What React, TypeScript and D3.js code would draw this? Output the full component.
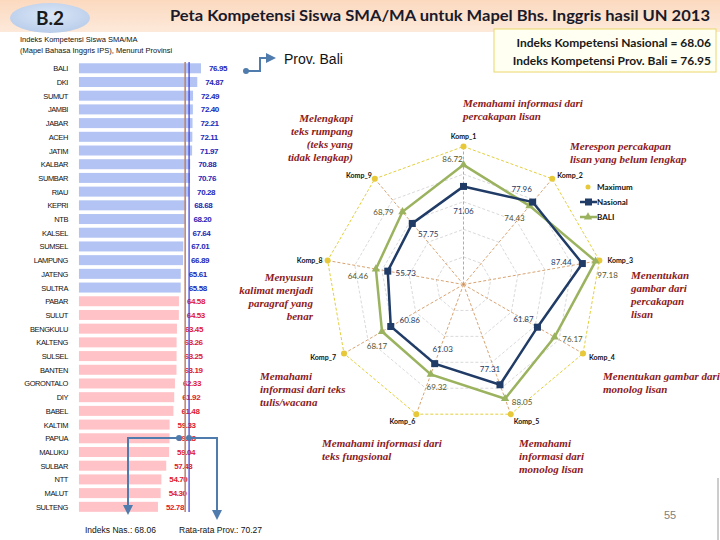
import React from 'react';
import * as d3 from 'd3';

// ---------- DATA ----------
const provinces = [
  'BALI', 'DKI', 'SUMUT', 'JAMBI', 'JABAR', 'ACEH', 'JATIM', 'KALBAR', 'SUMBAR', 'RIAU',
  'KEPRI', 'NTB', 'KALSEL', 'SUMSEL', 'LAMPUNG', 'JATENG', 'SULTRA', 'PABAR', 'SULUT',
  'BENGKULU', 'KALTENG', 'SULSEL', 'BANTEN', 'GORONTALO', 'DIY', 'BABEL', 'KALTIM',
  'PAPUA', 'MALUKU', 'SULBAR', 'NTT', 'MALUT', 'SULTENG',
];
const provValues = [
  76.95, 74.87, 72.49, 72.4, 72.21, 72.11, 71.97, 70.88, 70.76, 70.28,
  68.68, 68.2, 67.64, 67.01, 66.89, 65.61, 65.58, 64.58, 64.53,
  63.45, 63.26, 63.25, 63.19, 62.33, 61.92, 61.48, 59.33,
  59.28, 59.04, 57.43, 54.7, 54.3, 52.78,
];
const nationalIndex = 68.06;
const provAverage = 70.27;
const colorThreshold = 65;
const barBaseValue = 8.4;

const radarAxes = ['Komp_1', 'Komp_2', 'Komp_3', 'Komp_4', 'Komp_5', 'Komp_6', 'Komp_7', 'Komp_8', 'Komp_9'];
const maxValues = [100, 100, 100, 100, 100, 100, 100, 100, 100];
const nasValues = [71.06, 77.96, 87.44, 61.87, 77.31, 61.03, 60.86, 55.73, 57.75];
const baliValues = [86.72, 74.43, 97.18, 76.17, 88.05, 69.32, 68.17, 64.46, 68.79];
const gridLevels = [20, 40, 60, 80];

// ---------- LAYOUT (label offsets) ----------
const nasLabelOffsets = [[0, 25], [-11, -13], [-21, -2], [-14, -8], [-10, -16], [8, -15], [19, -6], [18, 2], [16, 11]];
const baliLabelOffsets = [[-11, -6], [-15, 12], [12, 14], [18, 2], [17, 3], [6, 13], [-5, 14], [-18, 7], [-19, 0]];
const axisLabelPos: [number, number, string][] = [
  [0, -10, 'middle'], [5, -3, 'start'], [8, 0, 'start'], [6, 4, 'start'], [3, 7, 'start'],
  [-1, 7, 'end'], [-8, 4, 'end'], [-5, 0, 'end'], [-3, -3, 'end'],
];

const annotations: { x: number; y: number; anchor: string; lines: string[] }[] = [
  { x: 463, y: 107, anchor: 'start', lines: ['Memahami informasi dari', 'percakapan lisan'] },
  { x: 353, y: 122, anchor: 'end', lines: ['Melengkapi', 'teks rumpang', '(teks yang', 'tidak lengkap)'] },
  { x: 570, y: 150, anchor: 'start', lines: ['Merespon percakapan', 'lisan yang belum lengkap'] },
  { x: 313, y: 281, anchor: 'end', lines: ['Menyusun', 'kalimat menjadi', 'paragraf yang', 'benar'] },
  { x: 631, y: 279, anchor: 'start', lines: ['Menentukan', 'gambar dari', 'percakapan', 'lisan'] },
  { x: 260, y: 380, anchor: 'start', lines: ['Memahami', 'informasi dari teks', 'tulis/wacana'] },
  { x: 603, y: 380, anchor: 'start', lines: ['Menentukan gambar dari', 'monolog lisan'] },
  { x: 322, y: 447, anchor: 'start', lines: ['Memahami informasi dari', 'teks fungsional'] },
  { x: 519, y: 447, anchor: 'start', lines: ['Memahami', 'informasi dari', 'monolog lisan'] },
];

const NAS_COLOR = '#1f3b66';
const BALI_COLOR = '#9bb35e';
const MAX_COLOR = '#e3cf3c';

export default function App() {
  // bar chart scales
  const x = d3.scaleLinear().domain([0, 100]).range([64, 242]);
  const y = d3.scaleBand<string>().domain(provinces).range([61.5, 61.5 + 33 * 13.7]).paddingInner(0.27).paddingOuter(0.13);

  // radar scales
  const cx = 463.5, cy = 284.5;
  const r = d3.scaleLinear().domain([0, 100]).range([0, 138]);
  const angle = d3.scalePoint<string>().domain(radarAxes).range([0, (2 * Math.PI * 8) / 9]);
  const pt = (i: number, v: number): [number, number] => {
    const a = angle(radarAxes[i])!;
    return [cx + r(v) * Math.sin(a), cy - r(v) * Math.cos(a)];
  };
  const lineGen = d3.line<[number, number]>().curve(d3.curveLinearClosed);
  const seriesPath = (vals: number[]) => lineGen(vals.map((v, i) => pt(i, v)))!;

  const ff = 'Liberation Sans, Arial, sans-serif';
  const calibri = 'Lato, Open Sans, sans-serif';

  return (
    <svg width={720} height={540} style={{ position: 'absolute', left: 0, top: 0, background: '#fff' }} fontFamily={ff}>
      <defs>
        <linearGradient id="band" x1="0" x2="0" y1="0" y2="1">
          <stop offset="0" stopColor="#fbd9bf" />
          <stop offset="1" stopColor="#fde9da" />
        </linearGradient>
        <radialGradient id="ell" cx="0.5" cy="0.4" r="0.6">
          <stop offset="0" stopColor="#dbe7f7" />
          <stop offset="1" stopColor="#b9cdea" />
        </radialGradient>
        <marker id="arr" viewBox="0 0 10 10" refX="5" refY="5" markerWidth="5" markerHeight="5" orient="auto">
          <path d="M0,0 L10,5 L0,10 z" fill="#4f7cac" />
        </marker>
      </defs>

      {/* header */}
      <rect x={0} y={0} width={720} height={32} fill="url(#band)" />
      <ellipse cx={50} cy={18} rx={40} ry={15} fill="url(#ell)" />
      <text x={50} y={25} textAnchor="middle" fontFamily={calibri} fontWeight="bold" fontSize={19} fill="#1a1a1a">B.2</text>
      <text x={170} y={21} fontFamily={calibri} fontWeight="bold" fontSize={16} fill="#1a1a2a" textLength={540} lengthAdjust="spacingAndGlyphs">
        Peta Kompetensi Siswa SMA/MA untuk Mapel Bhs. Inggris hasil UN 2013
      </text>
      <text x={20} y={42} fontSize={7.5} fill="#111">Indeks Kompetensi Siswa SMA/MA</text>
      <text x={20} y={53} fontSize={7.5} fill="#111">(Mapel Bahasa Inggris IPS), Menurut Provinsi</text>

      <rect x={494} y={29} width={222} height={43} fill="#fffff2" stroke="#ead86a" strokeWidth={1} />
      <text x={711} y={47} textAnchor="end" fontFamily={calibri} fontWeight="bold" fontSize={12} fill="#1a1a1a">Indeks Kompetensi Nasional = 68.06</text>
      <text x={711} y={65} textAnchor="end" fontFamily={calibri} fontWeight="bold" fontSize={12} fill="#1a1a1a">Indeks Kompetensi Prov. Bali = 76.95</text>

      {/* Prov. Bali arrow */}
      <polyline points="246,71 260,71 260,58 271,58" fill="none" stroke="#4f7cac" strokeWidth={2} markerEnd="url(#arr)" />
      <circle cx={246} cy={71} r={3} fill="#4f7cac" />
      <text x={284} y={64} fontSize={14} fill="#111">Prov. Bali</text>

      {/* bars */}
      {provinces.map((p, i) => {
        const v = provValues[i];
        const high = v >= colorThreshold;
        const yy = y(p)!;
        return (
          <g key={p}>
            <rect x={x(barBaseValue)} y={yy} width={x(v) - x(barBaseValue)} height={y.bandwidth()} fill={high ? '#b3c4f4' : '#ffc3c7'} />
            <text x={68} y={yy + y.bandwidth() / 2 + 3} textAnchor="end" fontSize={7.5} letterSpacing={-0.4} fill="#111">{p}</text>
            <text x={x(v) + 8} y={yy + y.bandwidth() / 2 + 3} fontSize={8} fontWeight="bold" letterSpacing={-0.4} fill={high ? '#2626b8' : '#e0202e'}>{v.toFixed(2)}</text>
          </g>
        );
      })}
      <line x1={x(nationalIndex)} x2={x(nationalIndex)} y1={62} y2={512} stroke="#b9806a" strokeWidth={1.5} />
      <line x1={x(provAverage)} x2={x(provAverage)} y1={62} y2={512} stroke="#3a3ad6" strokeWidth={1.2} />

      {/* bottom connectors */}
      <polyline points="179,438 128,438 128,510" fill="none" stroke="#4f7cac" strokeWidth={2} markerEnd="url(#arr)" />
      <circle cx={179} cy={438} r={3} fill="#4f7cac" />
      <polyline points="189,438 217,438 217,515" fill="none" stroke="#4f7cac" strokeWidth={2} markerEnd="url(#arr)" />
      <circle cx={189} cy={438} r={3} fill="#4f7cac" />
      <text x={85} y={533} fontSize={8.5} fill="#111">Indeks Nas.: 68.06</text>
      <text x={179} y={533} fontSize={8.5} fill="#111">Rata-rata Prov.: 70.27</text>

      {/* radar grid */}
      {gridLevels.map((lv) => (
        <path key={lv} d={seriesPath(radarAxes.map(() => lv))} fill="none" stroke="#cfcfcf" strokeWidth={0.8} strokeDasharray="3,2" />
      ))}
      {radarAxes.map((a, i) => {
        const [px, py] = pt(i, maxValues[i]);
        return <line key={a} x1={cx} y1={cy} x2={px} y2={py} stroke="#cd8c4c" strokeWidth={0.8} strokeDasharray="3,2" />;
      })}
      <path d={seriesPath(maxValues)} fill="none" stroke={MAX_COLOR} strokeWidth={1} strokeDasharray="3,2" />
      {maxValues.map((v, i) => {
        const [px, py] = pt(i, v);
        return <circle key={i} cx={px} cy={py} r={3} fill="#e6c838" />;
      })}

      {/* series */}
      <path d={seriesPath(baliValues)} fill="none" stroke={BALI_COLOR} strokeWidth={2.5} />
      {baliValues.map((v, i) => {
        const [px, py] = pt(i, v);
        return <path key={i} d={d3.symbol(d3.symbolTriangle, 30)()!} transform={`translate(${px},${py})`} fill={BALI_COLOR} />;
      })}
      <path d={seriesPath(nasValues)} fill="none" stroke={NAS_COLOR} strokeWidth={2.5} />
      {nasValues.map((v, i) => {
        const [px, py] = pt(i, v);
        return <rect key={i} x={px - 3.5} y={py - 3.5} width={7} height={7} fill={NAS_COLOR} />;
      })}

      {/* value labels */}
      {nasValues.map((v, i) => {
        const [px, py] = pt(i, v);
        return <text key={i} x={px + nasLabelOffsets[i][0]} y={py + nasLabelOffsets[i][1] + 3} textAnchor="middle" fontSize={8} fontFamily={calibri} fill={NAS_COLOR}>{v.toFixed(2)}</text>;
      })}
      {baliValues.map((v, i) => {
        const [px, py] = pt(i, v);
        return <text key={i} x={px + baliLabelOffsets[i][0]} y={py + baliLabelOffsets[i][1] + 3} textAnchor="middle" fontSize={8} fontFamily={calibri} fill="#55552f">{v.toFixed(2)}</text>;
      })}

      {/* axis labels */}
      {radarAxes.map((a, i) => {
        const [px, py] = pt(i, maxValues[i]);
        const [dx, dy, anchor] = axisLabelPos[i];
        return <text key={a} x={px + dx} y={py + dy + 2.5} textAnchor={anchor as any} fontSize={7} fontWeight="bold" fontFamily={calibri} fill="#111">{a}</text>;
      })}

      {/* legend */}
      <circle cx={588} cy={187} r={2.5} fill="#e6c838" />
      <text x={597} y={190} fontSize={8} fontFamily={calibri} fontWeight="bold" fill="#111">Maximum</text>
      <line x1={580} x2={597} y1={202} y2={202} stroke={NAS_COLOR} strokeWidth={2.5} />
      <rect x={585} y={198.5} width={7} height={7} fill={NAS_COLOR} />
      <text x={597} y={205} fontSize={8} fontFamily={calibri} fontWeight="bold" fill="#111">Nasional</text>
      <line x1={580} x2={597} y1={217} y2={217} stroke={BALI_COLOR} strokeWidth={2.5} />
      <path d={d3.symbol(d3.symbolTriangle, 30)()!} transform="translate(588,217)" fill={BALI_COLOR} />
      <text x={597} y={220} fontSize={8} fontFamily={calibri} fontWeight="bold" fill="#111">BALI</text>

      {/* annotations */}
      {annotations.map((an, k) => (
        <text key={k} x={an.x} y={an.y} textAnchor={an.anchor as any} fontFamily="Liberation Serif, serif" fontStyle="italic" fontWeight="bold" fontSize={11} fill="#8b1a1e">
          {an.lines.map((l, j) => (
            <tspan key={j} x={an.x} y={an.y + j * 13}>{l}</tspan>
          ))}
        </text>
      ))}

      {/* page number */}
      <text x={670} y={519} textAnchor="middle" fontSize={11} fill="#7f7f7f">55</text>
      <line x1={718} x2={718} y1={478} y2={540} stroke="#9a9a9a" strokeWidth={1} />
    </svg>
  );
}
